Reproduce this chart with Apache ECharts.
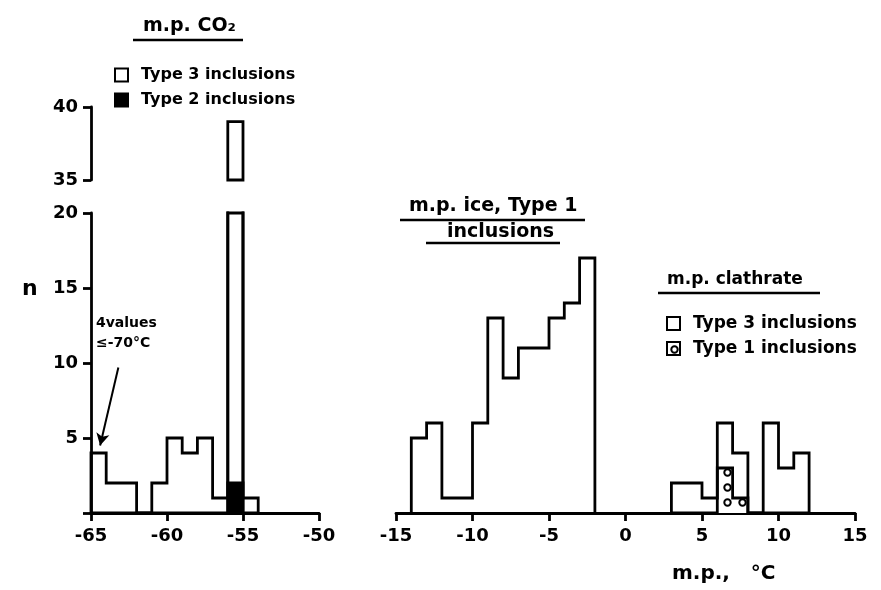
<!DOCTYPE html>
<html>
<head>
<meta charset="utf-8">
<script src="https://cdn.jsdelivr.net/npm/echarts@6/dist/echarts.min.js"></script>
<style>html,body{margin:0;padding:0;background:#fff}#c{width:881px;height:590px}</style>
</head>
<body>
<div id="c"></div>
<script>
// ---- data ----
const co2Edges = [-65, -64, -63, -62, -61, -60, -59, -58, -57, -56, -55, -54];
const co2Type3 = [4, 2, 2, 0, 2, 5, 4, 5, 1, 39, 1];   // total counts per bin
const co2Type2 = [0, 0, 0, 0, 0, 0, 0, 0, 0, 2, 0];
const iceEdges = [-14, -13, -12, -11, -10, -9, -8, -7, -6, -5, -4, -3, -2];
const iceType1 = [5, 6, 1, 1, 6, 13, 9, 11, 11, 13, 14, 17];
const clEdges = [3, 4, 5, 6, 7, 8, 9, 10, 11, 12];
const clType3 = [2, 2, 1, 6, 4, 0, 6, 3, 4];
const clType1 = [0, 0, 0, 3, 1, 0, 0, 0, 0];
const co2XTicks = [-65, -50, 5];     // min, max, interval
const mainXTicks = [-15, 15, 5];
const lowerYTicks = [0, 20, 5];
const upperYTicks = [35, 40, 5];

const FONT = 'DejaVu Sans';
function stepData(edges, counts) {
  const d = [[edges[0], 0]];
  counts.forEach((c, i) => d.push([edges[i], c]));
  d.push([edges[edges.length - 1], 0]);
  return d;
}
const tallBins = [];
co2Type3.forEach((c, i) => { if (c > lowerYTicks[1]) tallBins.push([co2Edges[i], co2Edges[i + 1], c]); });

// circle pattern for Type 1 inclusions
const pc = document.createElement('canvas');
pc.width = 15; pc.height = 15;
const pctx = pc.getContext('2d');
pctx.fillStyle = '#fff'; pctx.fillRect(0, 0, 15, 15);
pctx.strokeStyle = '#000'; pctx.lineWidth = 2;
pctx.beginPath(); pctx.arc(7.5, 7.5, 3.2, 0, Math.PI * 2); pctx.stroke();
const circlePattern = { image: pc, repeat: 'repeat' };

const LW = 2.8;
function rectItem(params, api) {
  const p0 = api.coord([api.value(0), api.value(2)]);
  const p1 = api.coord([api.value(1), 0]);
  const cs = params.coordSys;
  const shape = echarts.graphic.clipRectByRect(
    { x: p0[0], y: p0[1], width: p1[0] - p0[0], height: p1[1] - p0[1] },
    { x: cs.x, y: cs.y, width: cs.width, height: cs.height });
  return shape && { type: 'rect', shape: shape, style: { fill: 'transparent', stroke: '#000', lineWidth: LW } };
}

const axisLine = { show: true, lineStyle: { color: '#000', width: LW } };
const axisTick = { show: true, length: 8, lineStyle: { color: '#000', width: LW } };
const lbl = { color: '#000', fontFamily: FONT, fontSize: 18, fontWeight: 'bold' };
const stepLine = { color: '#000', width: LW, join: 'miter' };
const titleStyle = { fontFamily: FONT, fontSize: 19, fontWeight: 'bold', color: '#000' };
const legText = { fontFamily: FONT, fontSize: 16, fontWeight: 'bold', color: '#000', padding: [0, 0, 0, 8] };

const chart = echarts.init(document.getElementById('c'), null, { renderer: 'canvas' });
chart.setOption({
  animation: false,
  backgroundColor: '#fff',
  title: [
    { text: 'm.p. CO₂', left: 138, top: 12, textStyle: titleStyle },
    { text: 'm.p. ice, Type 1', left: 404, top: 192, textStyle: titleStyle },
    { text: 'inclusions', left: 442, top: 218, textStyle: titleStyle },
    { text: 'm.p. clathrate', left: 662, top: 266, textStyle: Object.assign({}, titleStyle, { fontSize: 17 }) }
  ],
  legend: [
    { orient: 'vertical', left: 109, top: 62, itemWidth: 13, itemHeight: 13, itemGap: 9,
      textStyle: legText,
      data: [
        { name: 'Type 3 inclusions', icon: 'rect', itemStyle: { color: '#fff', borderColor: '#000', borderWidth: 2 } },
        { name: 'Type 2 inclusions', icon: 'rect', itemStyle: { color: '#000', borderColor: '#000', borderWidth: 2 } }
      ] },
    { orient: 'vertical', left: 661, top: 310, itemWidth: 13, itemHeight: 13, itemGap: 8,
      textStyle: Object.assign({}, legText, { fontSize: 17 }),
      data: [
        { name: 'Type 3 inclusions', icon: 'rect', itemStyle: { color: '#fff', borderColor: '#000', borderWidth: 2 } },
        { name: 'Type 1 inclusions', icon: 'rect', itemStyle: { color: circlePattern, borderColor: '#000', borderWidth: 2 } }
      ] }
  ],
  grid: [
    { left: 91, top: 213, width: 228, height: 300 },
    { left: 91, top: 107, width: 228, height: 73 },
    { left: 396, top: 213, width: 459, height: 300 }
  ],
  xAxis: [
    { type: 'value', gridIndex: 0, min: co2XTicks[0], max: co2XTicks[1], interval: co2XTicks[2],
      axisLine: axisLine, axisTick: axisTick, splitLine: { show: false }, axisLabel: Object.assign({ margin: 14 }, lbl) },
    { type: 'value', gridIndex: 1, min: co2XTicks[0], max: co2XTicks[1], show: false, splitLine: { show: false } },
    { type: 'value', gridIndex: 2, min: mainXTicks[0], max: mainXTicks[1], interval: mainXTicks[2],
      axisLine: axisLine, axisTick: axisTick, splitLine: { show: false }, axisLabel: Object.assign({ margin: 14 }, lbl) }
  ],
  yAxis: [
    { type: 'value', gridIndex: 0, min: lowerYTicks[0], max: lowerYTicks[1], interval: lowerYTicks[2],
      axisLine: axisLine, axisTick: axisTick, splitLine: { show: false },
      axisLabel: Object.assign({ margin: 13, formatter: v => v === 0 ? '' : String(v) }, lbl) },
    { type: 'value', gridIndex: 1, min: upperYTicks[0], max: upperYTicks[1], interval: upperYTicks[2],
      axisLine: axisLine, axisTick: axisTick, splitLine: { show: false },
      axisLabel: Object.assign({ margin: 13 }, lbl) },
    { type: 'value', gridIndex: 2, min: lowerYTicks[0], max: lowerYTicks[1], show: false, splitLine: { show: false } }
  ],
  series: [
    { name: 'Type 3 inclusions', type: 'line', xAxisIndex: 0, yAxisIndex: 0, step: 'end', symbol: 'none',
      data: stepData(co2Edges, co2Type3), lineStyle: stepLine, itemStyle: { color: '#fff', borderColor: '#000' },
      markLine: { silent: true, symbol: ['none', 'arrow'], symbolSize: [10, 12],
        lineStyle: { color: '#000', width: 2, type: 'solid' }, label: { show: false },
        data: [[{ coord: [-63.2, 9.7] }, { coord: [-64.4, 4.5] }]] } },
    { name: 'co2-tall-lower', type: 'custom', xAxisIndex: 0, yAxisIndex: 0, renderItem: rectItem, data: tallBins },
    { name: 'co2-tall-upper', type: 'custom', xAxisIndex: 1, yAxisIndex: 1, renderItem: rectItem, data: tallBins },
    { name: 'Type 2 inclusions', type: 'line', xAxisIndex: 0, yAxisIndex: 0, step: 'end', symbol: 'none',
      data: stepData(co2Edges, co2Type2), lineStyle: stepLine, areaStyle: { color: '#000', opacity: 1 }, itemStyle: { color: '#000' } },
    { name: 'm.p. ice, Type 1 inclusions', type: 'line', xAxisIndex: 2, yAxisIndex: 2, step: 'end', symbol: 'none',
      data: stepData(iceEdges, iceType1), lineStyle: stepLine, itemStyle: { color: '#000' } },
    { name: 'Type 3 inclusions', type: 'line', xAxisIndex: 2, yAxisIndex: 2, step: 'end', symbol: 'none',
      data: stepData(clEdges, clType3), lineStyle: stepLine, itemStyle: { color: '#fff', borderColor: '#000' } },
    { name: 'Type 1 inclusions', type: 'line', xAxisIndex: 2, yAxisIndex: 2, step: 'end', symbol: 'none',
      data: stepData(clEdges, clType1), lineStyle: stepLine, areaStyle: { color: circlePattern, opacity: 1 },
      itemStyle: { color: circlePattern, borderColor: '#000' } }
  ],
  graphic: [
    { type: 'line', shape: { x1: 133, y1: 40, x2: 243, y2: 40 }, style: { stroke: '#000', lineWidth: 2.4 } },
    { type: 'line', shape: { x1: 400, y1: 220, x2: 585, y2: 220 }, style: { stroke: '#000', lineWidth: 2.4 } },
    { type: 'line', shape: { x1: 426, y1: 243, x2: 560, y2: 243 }, style: { stroke: '#000', lineWidth: 2.4 } },
    { type: 'line', shape: { x1: 658, y1: 293, x2: 820, y2: 293 }, style: { stroke: '#000', lineWidth: 2.4 } },
    { type: 'text', left: 22, top: 278, style: { text: 'n', font: 'bold 22px ' + FONT, fill: '#000' } },
    { type: 'text', left: 672, top: 564, style: { text: 'm.p.,   °C', font: 'bold 20px ' + FONT, fill: '#000' } },
    { type: 'text', left: 96, top: 313, style: { text: '4values\n≤-70°C', font: 'bold 14px ' + FONT, fill: '#000', lineHeight: 20 } }
  ]
});
</script>
</body>
</html>
